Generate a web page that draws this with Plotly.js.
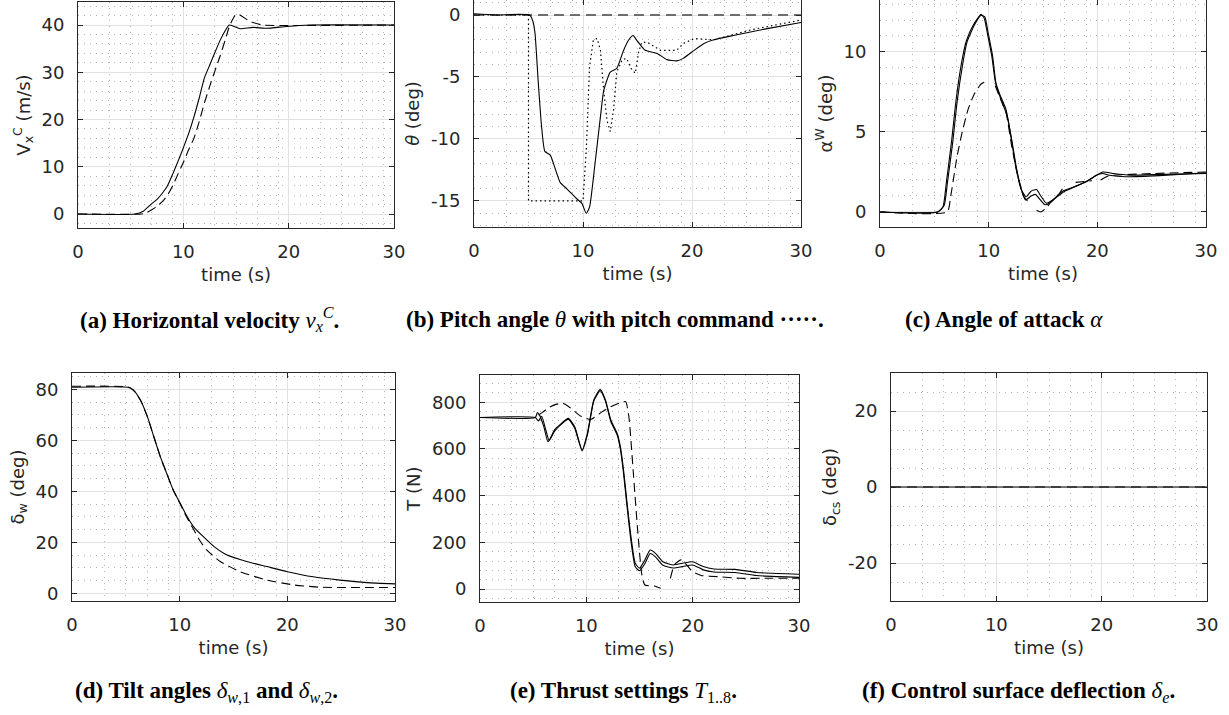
<!DOCTYPE html>
<html><head><meta charset="utf-8">
<script src="https://cdn.plot.ly/plotly-3.0.1.min.js"></script>
<style>html,body{margin:0;padding:0;background:#fff}#chart{width:1229px;height:715px}</style>
</head><body><div id="chart"></div>
<script>
// ---------- DATA ----------
// shared time ticks
const xTickVals = [0, 10, 20, 30];
const xTickText = ['0', '10', '20', '30'];

// (a) Horizontal velocity
const yTicksA = [0, 10, 20, 30, 40];
const yTextA = ['0', '10', '20', '30', '40'];
const tA_solid = [0, 5.4, 6.2, 7.0, 7.5, 8.0, 8.5, 9.0, 9.5, 10, 10.5, 11, 11.5, 12, 12.5, 13, 13.5, 14, 14.35, 14.8, 15.4, 16.6, 17.9, 19.8, 22, 30];
const vx_solid = [0, 0, 0.6, 2.2, 3.1, 4.4, 6.0, 8.5, 11.2, 14.0, 17.0, 20.5, 24.5, 28.8, 31.5, 34.2, 36.8, 38.9, 40.0, 39.7, 39.2, 39.5, 39.3, 39.7, 40, 40];
const tA_dash = [0, 6.0, 6.5, 7.0, 7.5, 8.0, 8.5, 9.0, 9.5, 10, 10.5, 11, 11.5, 12, 12.5, 13, 13.5, 14, 14.4, 14.9, 15.2, 16.3, 17.5, 20, 30];
const vx_dash = [0, 0, 0.3, 0.9, 1.6, 2.6, 4.0, 6.0, 8.5, 10.9, 13.6, 16.0, 19.5, 23.5, 27, 30.3, 33.5, 37, 39.9, 42.0, 42.3, 40.8, 40.0, 39.9, 40];

// (b) Pitch angle
const yTicksB = [-15, -10, -5, 0];
const yTextB = ['-15', '-10', '-5', '0'];
const tB_solid = [0, 2, 5.1, 5.4, 5.6, 5.9, 6.2, 6.5, 7.0, 7.3, 7.9, 8.5, 9.4, 9.9, 10.3, 10.6, 11.1, 11.6, 11.9, 12.5, 13.1, 13.7, 14.2, 14.6, 14.9, 15.7, 16.8, 17.7, 18.6, 19.2, 20.2, 21.1, 22, 23.8, 26.9, 30];
const theta_solid = [0.1, 0.0, 0, -0.5, -1.5, -5.5, -9, -11, -11.3, -12, -13.5, -14, -14.8, -15.2, -16, -15.5, -12, -8.2, -6.1, -4.6, -4.3, -2.9, -2.0, -1.65, -2.0, -2.85, -3.1, -3.6, -3.7, -3.5, -2.85, -2.3, -2.0, -1.65, -1.1, -0.6];
const tB_cmd = [0, 5, 5, 10, 10.3, 10.6, 10.95, 11.3, 11.6, 11.9, 12.2, 12.5, 12.8, 13.1, 13.6, 14.0, 14.4, 14.8, 15.1, 15.4, 15.9, 17.1, 18.6, 19.2, 20.2, 22, 25.4, 30];
const theta_cmd = [0, 0, -15, -15, -10.9, -4.2, -2.0, -1.9, -2.85, -6.1, -8.5, -9.4, -7.7, -4.6, -3.6, -3.5, -4.3, -4.7, -3.0, -2.2, -2.2, -2.85, -2.85, -2.3, -1.9, -2.0, -1.2, -0.4];
const tB_ref = [0, 30];
const theta_ref = [0, 0];

// (c) Angle of attack
const yTicksC = [0, 5, 10];
const yTextC = ['0', '5', '10'];
const tC_solid1 = [0, 5.3, 5.8, 6.1, 6.6, 7.0, 7.5, 7.95, 8.6, 9.3, 9.6, 9.9, 10.3, 10.6, 11.0, 11.6, 12.1, 12.5, 13.0, 13.45, 13.9, 14.4, 14.8, 15.3, 15.9, 16.8, 18, 19, 19.9, 20.5, 21.1, 22.6, 25.7, 30];
const alpha_solid1 = [0, 0, 0.33, 1.8, 4.5, 7, 9.3, 10.7, 11.7, 12.35, 12.1, 11.1, 9.7, 8.2, 7.4, 6.4, 4.5, 2.8, 1.4, 0.95, 1.3, 1.4, 1.0, 0.55, 0.75, 1.3, 1.6, 1.9, 2.3, 2.4, 2.3, 2.2, 2.27, 2.45];
const tC_solid2 = [0, 5.3, 5.9, 6.2, 6.7, 7.1, 7.6, 8.0, 8.7, 9.3, 9.65, 9.95, 10.35, 10.7, 11.1, 11.7, 12.2, 12.6, 13.1, 13.4, 13.9, 14.3, 14.7, 15.2, 15.6, 16.2, 17, 18, 19, 20.5, 21.5, 23, 26, 30];
const alpha_solid2 = [0, 0, 0.4, 1.8, 4.4, 6.9, 9.2, 10.6, 11.7, 12.3, 12.2, 11.2, 9.8, 7.9, 7.1, 6.0, 4.2, 2.6, 1.2, 0.75, 1.0, 1.1, 0.8, 0.45, 0.55, 0.9, 1.3, 1.6, 1.9, 2.5, 2.4, 2.3, 2.35, 2.4];
const tC_dash = [0, 3, 6.2, 6.5, 7.1, 7.6, 8.1, 8.7, 9.3, 9.9, 10.2, 10.6, 11.0, 11.6, 12.1, 12.6, 13.2, 13.7, 14.0, 14.4, 14.8, 15.3, 15.7, 16.5, 17.0, 17.5, 18.0, 19.5, 19.9, 20.3, 21, 25, 30];
const alpha_dash = [0, -0.1, 0, 0.95, 3.5, 5.1, 6.4, 7.4, 8.0, 8.2, null, 7.9, 7.2, 6.2, 4.2, 2.5, 1.0, 0.6, null, 0.1, 0.0, 0.25, 0.6, 1.15, 1.7, null, 1.85, 1.95, null, 2.0, 2.25, 2.4, 2.5];

// (d) Tilt angles
const yTicksD = [0, 20, 40, 60, 80];
const yTextD = ['0', '20', '40', '60', '80'];
const tD_solid = [0, 5.2, 5.7, 6.35, 7.0, 7.6, 8.2, 8.8, 9.4, 10.05, 10.7, 11.3, 12.2, 13.2, 14.4, 16.3, 18.1, 20, 22.4, 24.9, 27.4, 30];
const tilt_solid = [80.8, 80.8, 79.7, 75.8, 69.3, 61.4, 53.6, 47, 40.5, 35.3, 30, 26.1, 22.2, 18.3, 15, 12.4, 10.5, 8.5, 6.5, 5.2, 4.2, 3.7];
const tD_dash = [0, 5.2, 5.7, 6.35, 7.0, 7.6, 8.2, 8.8, 9.4, 10.05, 10.7, 11.3, 11.9, 12.5, 13.8, 15.6, 18.1, 20.6, 23.1, 30];
const tilt_dash = [81.2, 80.9, 79.7, 75.8, 69.3, 61.4, 53.6, 47, 40.5, 35.0, 29.5, 25, 20.5, 17, 12.4, 8.5, 5.2, 3.3, 2.4, 2.3];

// (e) Thrust settings
const yTicksE = [0, 200, 400, 600, 800];
const yTextE = ['0', '200', '400', '600', '800'];
const tE_solid1 = [0, 5.2, 5.4, 5.6, 6.0, 6.4, 7.0, 7.5, 8.3, 8.9, 9.6, 10.1, 10.7, 11.3, 11.8, 12.3, 12.9, 13.2, 13.5, 13.8, 14.2, 14.6, 15.0, 15.5, 16.0, 16.5, 17.2, 18.2, 19.0, 20.0, 21.0, 22.0, 24.0, 26.0, 30];
const thrust_solid1 = [735, 735, 756, 745, 696, 631, 681, 703, 731, 696, 596, 667, 810, 856, 810, 724, 667, 610, 510, 381, 224, 110, 89, 124, 167, 153, 117, 103, 110, 117, 96, 86, 84, 71, 63];
const tE_solid2 = [0, 5.2, 5.5, 5.8, 6.2, 6.5, 7.0, 7.5, 8.3, 8.9, 9.6, 10.1, 10.7, 11.3, 11.8, 12.3, 12.9, 13.2, 13.5, 13.8, 14.2, 14.6, 15.0, 15.5, 16.0, 16.5, 17.2, 18.2, 19.0, 20.0, 21.0, 22.0, 24.0, 26.0, 30];
const thrust_solid2 = [735, 735, 720, 740, 680, 636, 675, 700, 728, 690, 592, 660, 805, 850, 805, 718, 660, 600, 495, 365, 205, 95, 78, 108, 152, 138, 102, 90, 96, 103, 82, 73, 71, 58, 50];
const tE_dash = [5.5, 5.9, 6.4, 7.0, 7.8, 8.5, 9.5, 10.4, 11.5, 12.3, 13.1, 13.7, 14.0, 14.4, 14.8, 15.2, 15.5, 16.4, 17.0, 17.5, 17.9, 18.3, 18.9, 19.5, 20.0, 20.8, 22.3, 24.4, 27, 30];
const thrust_dash = [745, 758, 775, 789, 796, 776, 740, 726, 760, 781, 796, 803, 739, 510, 267, 67, 17, 13, 3, null, 46, 105, 125, 100, 74, 58, 53, 46, 46, 46];

// (f) Control surface deflection
const yTicksF = [-20, 0, 20];
const yTextF = ['-20', '0', '20'];
const tF = [0, 30];
const dcs_solid = [0, 0];
const dcs_dash = [0, 0];

// ---------- STYLE ----------
const W = 1229, H = 715;
const AX = '#262626';
const tickFont = {family: 'DejaVu Sans, Liberation Sans, Arial', size: 18, color: AX};
const titleFont = {family: 'DejaVu Sans, Liberation Sans, Arial', size: 18, color: AX};
const xMinor = [3, 5, 7, 9, 13, 15, 17, 19, 23, 25, 27, 29];

function xd(l, r) { return [l / W, r / W]; }
function yd(t, b) { return [1 - b / H, 1 - t / H]; }

function xAxis(dom, anchor) {
  return {
    domain: dom, anchor: anchor, range: [0, 30], tickmode: 'array', tickvals: xTickVals, ticktext: xTickText,
    ticks: 'inside', ticklen: 5, tickwidth: 1, tickcolor: AX, showline: true, linecolor: AX, linewidth: 1, mirror: 'ticks',
    showgrid: true, gridcolor: '#e2e2e2', gridwidth: 1, zeroline: false,
    minor: {tickmode: 'array', tickvals: xMinor, showgrid: true, gridcolor: '#b4b4b4', griddash: '1px,5px', gridwidth: 1, ticks: ''},
    tickfont: tickFont, ticklabelstandoff: 7,
    title: {text: 'time (s)', font: titleFont, standoff: 7}, fixedrange: true
  };
}
function yAxis(dom, anchor, range, tickvals, ticktext, minorDt, title) {
  return {
    domain: dom, anchor: anchor, range: range, tickmode: 'array', tickvals: tickvals, ticktext: ticktext,
    ticks: 'inside', ticklen: 5, tickwidth: 1, tickcolor: AX, showline: true, linecolor: AX, linewidth: 1, mirror: 'ticks',
    showgrid: true, gridcolor: '#e2e2e2', gridwidth: 1, zeroline: false,
    minor: {tick0: 0, dtick: minorDt, showgrid: true, gridcolor: '#b4b4b4', griddash: '1px,5px', gridwidth: 1, ticks: ''},
    tickfont: tickFont, ticklabelstandoff: 9,
    title: {text: title, font: titleFont, standoff: 6}, fixedrange: true
  };
}

const solid = {color: '#000', width: 1.1, shape: 'spline', smoothing: 0.5};
const dashed = {color: '#000', width: 1.1, dash: '9px,5px', shape: 'spline', smoothing: 0.5};
function tr(x, y, xa, ya, line) {
  return {x: x, y: y, xaxis: xa, yaxis: ya, mode: 'lines', line: line, showlegend: false, hoverinfo: 'skip', connectgaps: false};
}

const data = [
  tr(tA_solid, vx_solid, 'x', 'y', solid),
  tr(tA_dash, vx_dash, 'x', 'y', dashed),
  tr(tB_ref, theta_ref, 'x2', 'y2', {color: '#444', width: 1.6, dash: '10px,6px'}),
  tr(tB_cmd, theta_cmd, 'x2', 'y2', {color: '#000', width: 1.2, dash: '1.5px,3px'}),
  tr(tB_solid, theta_solid, 'x2', 'y2', solid),
  tr(tC_dash, alpha_dash, 'x3', 'y3', dashed),
  tr(tC_solid1, alpha_solid1, 'x3', 'y3', solid),
  tr(tC_solid2, alpha_solid2, 'x3', 'y3', solid),
  tr(tD_dash, tilt_dash, 'x4', 'y4', dashed),
  tr(tD_solid, tilt_solid, 'x4', 'y4', solid),
  tr(tE_dash, thrust_dash, 'x5', 'y5', dashed),
  tr(tE_solid1, thrust_solid1, 'x5', 'y5', solid),
  tr(tE_solid2, thrust_solid2, 'x5', 'y5', solid),
  tr(tF, dcs_dash, 'x6', 'y6', {color: '#555', width: 1.6, dash: '10px,6px'}),
  tr(tF, dcs_solid, 'x6', 'y6', {color: '#000', width: 1.1})
];

const capFont = {family: 'Liberation Serif, Times New Roman, serif', size: 23, color: '#000'};
function cap(text, xc, yc) {
  return {text: text, x: xc / W, y: 1 - yc / H, xref: 'paper', yref: 'paper', xanchor: 'center', yanchor: 'middle', showarrow: false, font: capFont};
}

const layout = {
  width: W, height: H, margin: {l: 0, r: 0, t: 0, b: 0},
  paper_bgcolor: '#fff', plot_bgcolor: '#fff', showlegend: false,
  xaxis: xAxis(xd(78, 394), 'y'),
  yaxis: yAxis(yd(2, 228), 'x', [-2.96, 44.87], yTicksA, yTextA, 2, 'V<sub>x</sub><sup>C</sup> (m/s)'),
  xaxis2: xAxis(xd(474, 801), 'y2'),
  yaxis2: yAxis(yd(0, 227), 'x2', [-17.1, 1.21], yTicksB, yTextB, 1, '<i>θ</i> (deg)'),
  xaxis3: xAxis(xd(880, 1206), 'y3'),
  yaxis3: yAxis(yd(0, 227), 'x3', [-0.94, 13.25], yTicksC, yTextC, 1, 'α<sup>W</sup> (deg)'),
  xaxis4: xAxis(xd(72, 395), 'y4'),
  yaxis4: yAxis(yd(373, 601), 'x4', [-3.0, 86.4], yTicksD, yTextD, 5, 'δ<sub>w</sub> (deg)'),
  xaxis5: xAxis(xd(480, 799), 'y5'),
  yaxis5: yAxis(yd(375, 602), 'x5', [-55.7, 917], yTicksE, yTextE, 40, 'T (N)'),
  xaxis6: xAxis(xd(891, 1207), 'y6'),
  yaxis6: yAxis(yd(373, 601), 'x6', [-30, 30], yTicksF, yTextF, 5, 'δ<sub>cs</sub> (deg)'),
  annotations: [
    cap('<b>(a) Horizontal velocity </b><i>v</i><sub><i>x</i></sub><sup><i>C</i></sup><b>.</b>', 209, 320),
    cap('<b>(b) Pitch angle </b><i>θ</i><b> with pitch command ·····.</b>', 615, 320),
    cap('<b>(c) Angle of attack </b><i>α</i>', 1004, 320),
    cap('<b>(d) Tilt angles </b><i>δ</i><sub><i>w</i>,1</sub><b> and </b><i>δ</i><sub><i>w</i>,2</sub><b>.</b>', 206, 692),
    cap('<b>(e) Thrust settings </b><i>T</i><sub>1..8</sub><b>.</b>', 623, 692),
    cap('<b>(f) Control surface deflection </b><i>δ</i><sub><i>e</i></sub><b>.</b>', 1018, 692)
  ]
};

Plotly.newPlot('chart', data, layout, {displayModeBar: false, staticPlot: true});
</script></body></html>
